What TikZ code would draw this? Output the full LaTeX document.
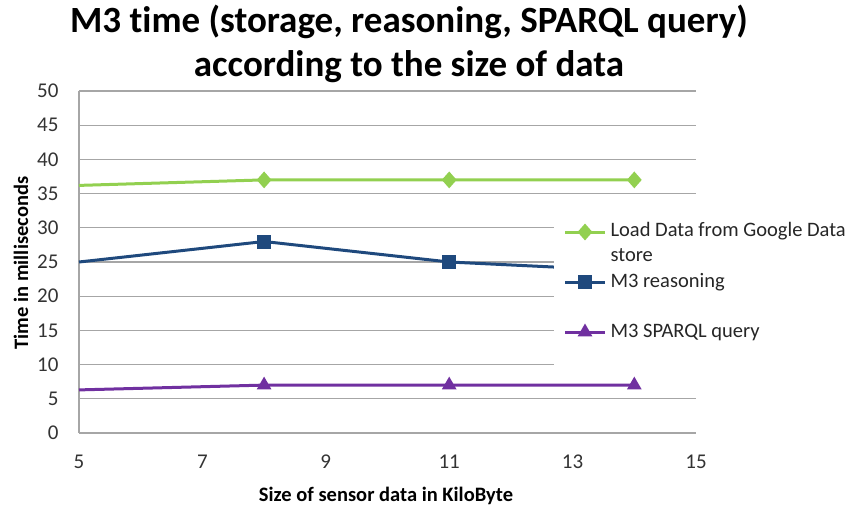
\documentclass[tikz,border=0pt]{standalone}
\usepackage{fontspec}
\setmainfont[Ligatures=NoCommon]{Carlito}
\usetikzlibrary{shapes.geometric}
\definecolor{gridc}{HTML}{A6A6A6}
\definecolor{sgreen}{HTML}{92D050}
\definecolor{sblue}{HTML}{1F497D}
\definecolor{spurple}{HTML}{7030A0}
\tikzset{
  grid line/.style={draw=gridc, line width=1.3pt},
  series/.style={line width=3pt, line join=round},
  dmark/.style={diamond, fill=#1, inner sep=0pt, minimum width=15pt, minimum height=17pt},
  smark/.style={rectangle, fill=#1, inner sep=0pt, minimum size=14pt},
  tmark/.style={regular polygon, regular polygon sides=3, fill=#1, inner sep=0pt, minimum size=17pt},
  ticklab/.style={font=\fontsize{21}{23}\selectfont, text=black!80},
  legtext/.style={font=\fontsize{20.5}{25}\selectfont, text=black!85, anchor=west, align=left},
  axtitle/.style={font=\fontsize{20.5}{22}\selectfont\bfseries}
}
\begin{document}
\begin{tikzpicture}[x=1pt, y=-1pt]
\useasboundingbox (0,0) rectangle (854,509);
% title
\node[font=\fontsize{37}{44}\selectfont\bfseries, align=center] (title) at (409,44)
  {M3 time (storage, reasoning, SPARQL query)\\according to the size of data};
% horizontal grid lines and y tick labels
\foreach \v in {0,5,...,50} {
  \draw[grid line] (79,{433-6.84*\v}) -- (696,{433-6.84*\v});
  \node[ticklab, anchor=east] (yl\v) at (62,{433-6.84*\v}) {\v};
}
% left axis
\draw[grid line] (79,91) -- (79,433);
% x tick labels
\foreach \v in {5,7,9,11,13,15} {
  \node[ticklab] (xl\v) at ({79+61.7*(\v-5)},462) {\v};
}
% axis titles
\node[axtitle, rotate=90] (ytitle) at (21,263) {Time in milliseconds};
\node[axtitle] (xtitle) at (386,496) {Size of sensor data in KiloByte};
% data coordinates
\coordinate (g0) at (79,185.4);
\coordinate (g1) at (264.1,179.9);
\coordinate (g2) at (449.2,179.9);
\coordinate (g3) at (634.3,179.9);
\coordinate (b0) at (79,262);
\coordinate (b1) at (264.1,241.5);
\coordinate (b2) at (449.2,262);
\coordinate (b3) at (634.3,270.9);
\coordinate (p0) at (79,389.9);
\coordinate (p1) at (264.1,385.1);
\coordinate (p2) at (449.2,385.1);
\coordinate (p3) at (634.3,385.1);
% series
\draw[series, sgreen] (g0) -- (g1) -- (g2) -- (g3);
\draw[series, sblue] (b0) -- (b1) -- (b2) -- (b3);
\draw[series, spurple] (p0) -- (p1) -- (p2) -- (p3);
\foreach \i in {1,2,3} {
  \node[dmark=sgreen] (gm\i) at (g\i) {};
  \node[smark=sblue] (bm\i) at (b\i) {};
  \node[tmark=spurple] (pm\i) at (p\i) {};
}
% legend
\fill[white] (554,200) rectangle (854,373);
\coordinate (la1) at (565,232); \coordinate (lb1) at (605,232);
\coordinate (la2) at (565,282); \coordinate (lb2) at (605,282);
\coordinate (la3) at (565,332); \coordinate (lb3) at (605,332);
\draw[series, sgreen] (la1) -- (lb1);
\draw[series, sblue] (la2) -- (lb2);
\draw[series, spurple] (la3) -- (lb3);
\node[dmark=sgreen] (lm1) at (585,232) {};
\node[smark=sblue] (lm2) at (585,282) {};
\node[tmark=spurple] (lm3) at (585,332) {};
\node[legtext, anchor=north west] (lt1) at (607,219) {Load Data from Google Data\\store};
\node[legtext] (lt2) at (607,282) {M3 reasoning};
\node[legtext] (lt3) at (607,332) {M3 SPARQL query};
\end{tikzpicture}
\end{document}
